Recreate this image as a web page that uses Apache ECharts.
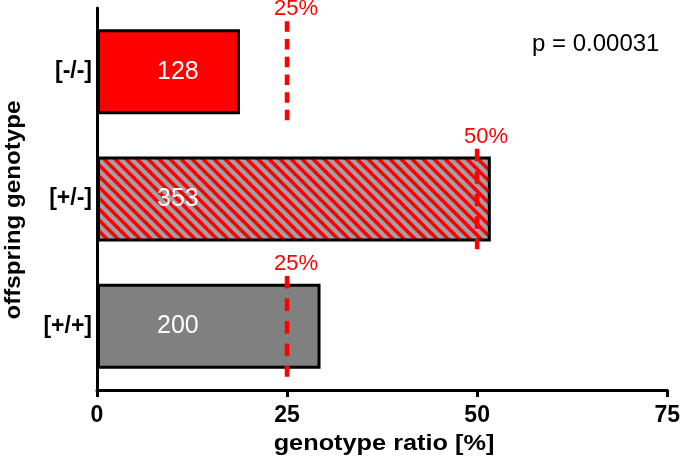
<!DOCTYPE html>
<html>
<head>
<meta charset="utf-8">
<script src="https://cdn.jsdelivr.net/npm/echarts@6/dist/echarts.min.js"></script>
<style>html,body{margin:0;padding:0;background:#fff}#c{width:683px;height:464px}</style>
</head>
<body>
<div id="c"></div>
<script>
// Data (bottom to top on the category axis)
const categories = ['[+/+]', '[+/-]', '[-/-]'];
const ratios = [29.4, 51.8, 18.8];      // genotype ratio [%]
const counts = [200, 353, 128];         // offspring counts shown in bars
const expected = [25, 50, 25];          // expected Mendelian ratio [%]
const expectedLabels = ['25%', '50%', '25%'];
const xTicks = [0, 25, 50, 75];
const pValueText = 'p = 0.00031';

const FONT = '"Liberation Sans", Arial, sans-serif';
const dashStyles = [[12.5, 10], [12.5, 10], [10.5, 7.2]];

// hatch pattern
function hatch() {
  const s = 11;
  const cv = document.createElement('canvas');
  cv.width = s; cv.height = s;
  const g = cv.getContext('2d');
  g.fillStyle = '#a0a0a6';
  g.fillRect(0, 0, s, s);
  g.strokeStyle = '#ff0000';
  g.lineWidth = 3.6;
  for (const o of [-s, 0, s]) {
    g.beginPath();
    g.moveTo(o - 1, -1);
    g.lineTo(o + s + 1, s + 1);
    g.stroke();
  }
  return cv;
}
const fills = ['#808080', { image: hatch(), repeat: 'repeat' }, '#ff0000'];

const chart = echarts.init(document.getElementById('c'), null, { renderer: 'canvas' });
chart.setOption({
  animation: false,
  grid: { left: 97, right: 14, top: 8, bottom: 74, containLabel: false },
  xAxis: {
    type: 'value', min: 0, max: 75, interval: 25,
    axisLine: { show: true, lineStyle: { color: '#000', width: 3 } },
    axisTick: { show: true, length: 7, lineStyle: { color: '#000', width: 3 } },
    splitLine: { show: false },
    axisLabel: { color: '#000', fontWeight: 'bold', fontSize: 23, fontFamily: FONT, margin: 14,
      formatter: v => xTicks.includes(v) ? String(v) : '' }
  },
  yAxis: {
    type: 'category', data: categories,
    axisLine: { show: true, lineStyle: { color: '#000', width: 3 } },
    axisTick: { show: false },
    axisLabel: { color: '#000', fontWeight: 'bold', fontSize: 23, fontFamily: FONT, margin: 5 }
  },
  graphic: [
    { type: 'text', x: 532, y: 44, style: { text: pValueText, font: '24px ' + FONT, fill: '#000', verticalAlign: 'middle' } },
    { type: 'text', x: 384, y: 444, scaleX: 1.15, style: { text: 'genotype ratio [%]', font: 'bold 22px ' + FONT, fill: '#000', align: 'center', verticalAlign: 'middle' } },
    { type: 'text', x: 13.5, y: 210, rotation: Math.PI / 2, scaleX: 1.1, style: { text: 'offspring genotype', font: 'bold 22px ' + FONT, fill: '#000', align: 'center', verticalAlign: 'middle' } }
  ],
  series: [
    {
      type: 'bar',
      barWidth: 85,
      data: ratios.map((v, i) => ({ value: v, itemStyle: { color: fills[i] } })),
      itemStyle: { borderColor: '#000', borderWidth: 3 },
      label: {
        show: true, position: 'insideLeft', distance: 60,
        color: '#fff', fontSize: 25, fontFamily: FONT,
        formatter: p => String(counts[p.dataIndex])
      },
      z: 2
    },
    {
      type: 'custom',
      data: expected.map((v, i) => [i, v, expectedLabels[i]]),
      encode: { x: 1, y: 0 },
      renderItem: function (params, api) {
        const c = api.coord([api.value(1), api.value(0)]);
        const h = api.size([0, 1])[1];
        return {
          type: 'group',
          children: [
            { type: 'line', shape: { x1: c[0], y1: c[1] - 0.395 * h, x2: c[0], y2: c[1] + 0.395 * h },
              style: { stroke: '#ff0000', lineWidth: 4.6, lineDash: dashStyles[params.dataIndex] } },
            { type: 'text', x: c[0] + 9, y: c[1] - 0.49 * h,
              style: { text: expectedLabels[params.dataIndex], fill: '#ff0000', font: '22px ' + FONT, align: 'center', verticalAlign: 'middle' } }
          ]
        };
      },
      z: 5
    }
  ]
});
</script>
</body>
</html>
